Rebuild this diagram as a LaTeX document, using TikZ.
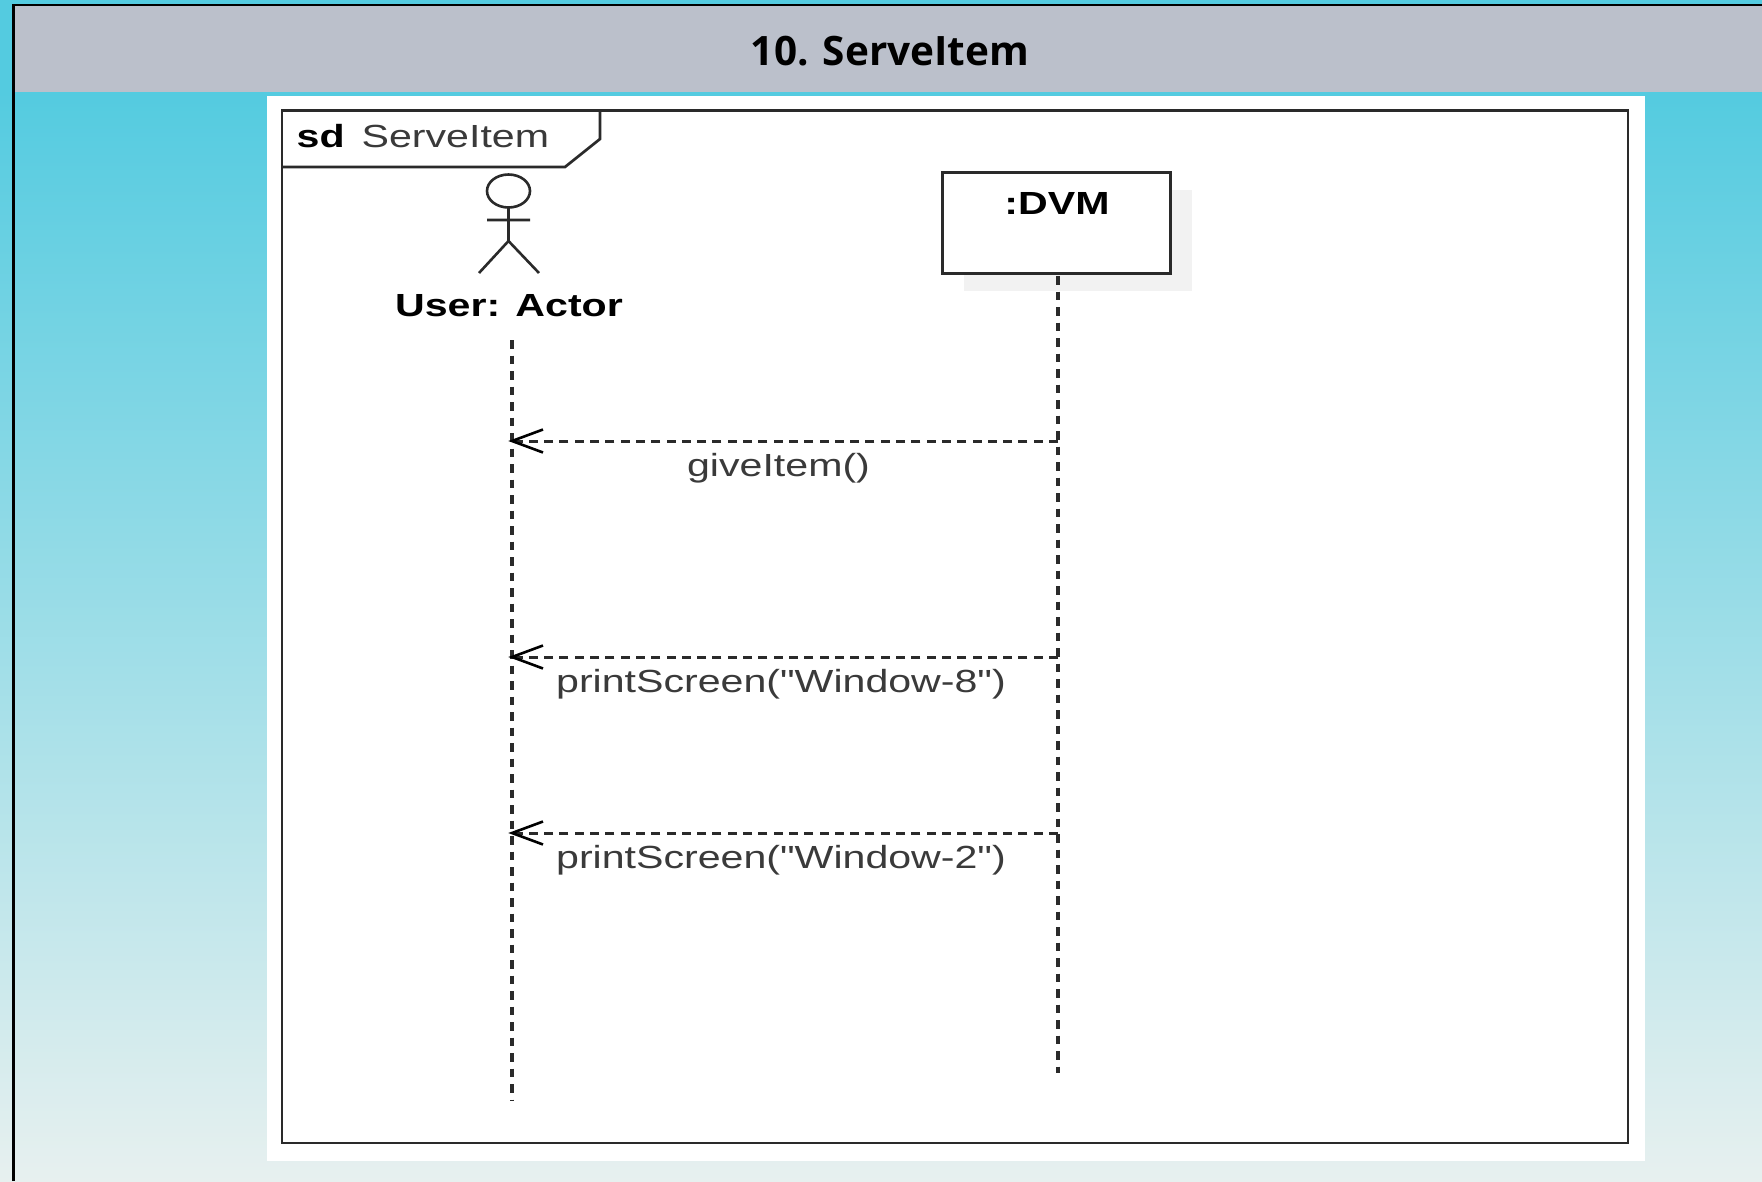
\documentclass[tikz,border=0pt]{standalone}
\usepackage{fontspec}
\newfontfamily\arialf{Liberation Sans}
\newfontfamily\titlefont{Open Sans}
\usetikzlibrary{arrows.meta}
\definecolor{bgtop}{HTML}{54CBE0}
\definecolor{bgbot}{HTML}{E7F0EF}
\definecolor{hdr}{HTML}{BBC0CB}
\definecolor{ink}{HTML}{2A2A2A}
\definecolor{soft}{HTML}{3A3A3A}
\newcommand{\wide}[1]{\scalebox{1.285}[1]{#1}}
\tikzset{
  x=1pt,y=-1pt,
  umlline/.style={draw=ink,line width=2.7pt},
  lifeline/.style={draw=ink,line width=3.2pt,dash pattern=on 8.5pt off 7pt},
  message/.style={draw=ink,line width=3pt,dash pattern=on 9pt off 6.3pt},
  openhead/.style={draw=black,line width=2.6pt},
  boldlabel/.style={inner sep=0pt,font=\arialf\fontsize{32pt}{34pt}\selectfont\bfseries,text=black,anchor=base},
  msglabel/.style={inner sep=0pt,font=\arialf\fontsize{32pt}{34pt}\selectfont,text=soft,anchor=base},
  lifebox/.style={draw=ink,line width=3pt,fill=white,minimum width=228pt,minimum height=101pt,inner sep=0pt},
}
\begin{document}
\begin{tikzpicture}
\useasboundingbox (0,0) rectangle (1762,1181);
\shade[top color=bgtop,bottom color=bgbot] (0,92) rectangle (1762,1181);
\fill[bgtop] (0,0) rectangle (1762,92);
\fill[hdr] (13.5,5) rectangle (1762,92);
\draw[black,line width=2.8pt] (13.5,1181) -- (13.5,5) -- (1762,5);
\node[inner sep=0pt,anchor=base,font=\titlefont\fontsize{40.5pt}{42pt}\selectfont\bfseries,text=black] (title) at (890,65) {10. ServeItem};
\fill[white] (267,96) rectangle (1645,1161);
% frame
\draw[umlline] (282,110.5) rectangle (1628,1143);
\draw[umlline] (282,167) -- (565,167) -- (600,139) -- (600,110.5);
\node[boldlabel,anchor=base west] (sd) at (296.5,147) {\wide{sd}};
\node[msglabel,anchor=base west] (frameName) at (361.5,147) {\wide{ServeItem}};
% actor
\draw[draw=ink,line width=2.6pt] (508.5,191) ellipse [x radius=21.5,y radius=16.5];
\draw[draw=ink,line width=2.6pt] (508.5,207.5) -- (508.5,241) (487,220) -- (530,220) (479,273) -- (508.5,241) -- (539,273);
\node[boldlabel] (actor) at (509,316) {\wide{User: Actor}};
% DVM
\fill[black!5] (964,190) rectangle (1192,291);
\node[lifebox] (dvm) at (1056.5,222.5) {};
\node[boldlabel] (dvmlabel) at (1057,214) {\wide{:DVM}};
% lifelines
\coordinate (userTop) at (512,340);
\coordinate (userEnd) at (512,1101);
\coordinate (dvmTop) at (1058,276);
\coordinate (dvmEnd) at (1058,1073);
\draw[lifeline] (userTop) -- (userEnd);
\draw[lifeline] (dvmTop) -- (dvmEnd);
% messages
\foreach \n/\yy in {a/441,b/657,c/833}{
  \coordinate (u\n) at (512,\yy);
  \coordinate (d\n) at (1058,\yy);
  \draw[message] (d\n) -- (u\n);
  \draw[openhead] (543,\yy-11.5) -- (u\n) -- (543,\yy+11.5);
}
\node[msglabel] (m1) at (778.5,476) {\wide{giveItem()}};
\node[msglabel] (m2) at (781,692) {\wide{printScreen("Window-8")}};
\node[msglabel] (m3) at (781,868) {\wide{printScreen("Window-2")}};
\end{tikzpicture}
\end{document}
